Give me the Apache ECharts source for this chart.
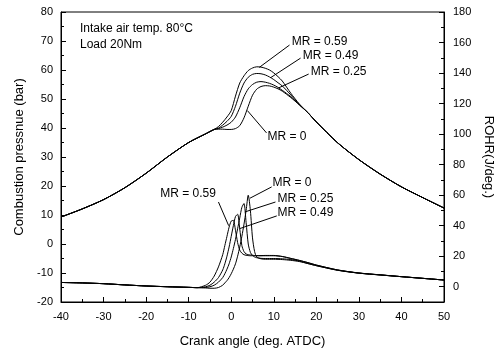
<!DOCTYPE html>
<html><head><meta charset="utf-8">
<script src="https://cdn.jsdelivr.net/npm/echarts@6/dist/echarts.min.js"></script>
<style>html,body{margin:0;padding:0;background:#fff}#c{width:497px;height:354px}</style>
</head><body><div id="c"></div>
<script>
// Crank angle samples (deg. ATDC)
const pressureX = [-40,-35,-30,-25,-20,-15,-10,-6,-4,-3,-2,-1,0,1,2,3,4,5,6,7,8,9,10,11,12,14,16,18,20,25,30,35,40,45,50];
// Combustion pressure (bar)
const pMR059 = [9.3,12.1,15.3,19.4,24.4,30,35,38,39.5, 40.5,42,43.8,46,51,55.5,58,59.8,60.7,61.1,61,60.6,60,59,57.7,56.2,52,48.3, 45.3,42.1,34.9,29.1,24.1,19.7,16,12.4];
const pMR049 = [9.3,12.1,15.3,19.4,24.4,30,35,38,39.5, 40,41,42.3,44,47.5,52,55.5,57.5,58.5,58.8,58.7,58.3,57.6,56.7,55.6,54.5,51.4,48.1, 45.3,42.1,34.9,29.1,24.1,19.7,16,12.4];
const pMR025 = [9.3,12.1,15.3,19.4,24.4,30,35,38,39.5, 39.8,40.3,41,42,43.8,47,50.8,53.5,55,55.8,56,55.8,55.4,54.8,54,53,50.8,48, 45.3,42.1,34.9,29.1,24.1,19.7,16,12.4];
const pMR0   = [9.3,12.1,15.3,19.4,24.4,30,35,38,39.5, 39.6,39.6,39.5,39.5,39.8,40.8,43.5,47.5,51.3,53.4,54.3,54.6,54.5,54.1,53.5,52.7,50.5,48, 45.3,42.1,34.9,29.1,24.1,19.7,16,12.4];

const rohrX = [-40,-35,-30,-25,-20,-15,-10,-8,-6,-5,-4,-3,-2,-1.5,-1,-0.5,0,0.5,1,1.5,2,2.5,3,3.5,4,4.5,5,5.5,6,7,8,10,12,14,16,18,20,25,30,35,40,45,50];
// Rate of heat release (J/deg.)
const rMR059 = [2.8,2.5,2,1.2,0.5,0,-0.4,-0.6, 1,3,7,13,21,27,33,39,43,43.5,37,29,24,22,21,20.6,20.4,20.3,20.3,20.3,20.3,20.4,20.5,20.5,19.8,18.5,17.2, 15.8,14.2,11,9,7.8,6.6,5.5,4.4];
const rMR049 = [2.8,2.5,2,1.2,0.5,0,-0.4,-0.6, 0,1,3,6,11,15,20,26,33,40,46,47.5,38,27,23,21.5,21,20.8,20.6,20.5,20.4,20.3,20.3,20.3,19.8,18.6,17.3, 15.8,14.2,11,9,7.8,6.6,5.5,4.4];
const rMR025 = [2.8,2.5,2,1.2,0.5,0,-0.4,-0.6, -0.5,0,1,3,6,8.5,11.5,15,19.5,25,31,38,45,52,54.5,42,28,22.5,20.5,19.5,19,18.6,18.5,18.5,18.3,17.8,16.8, 15.2,13.8,10.8,8.9,7.7,6.6,5.5,4.4];
const rMR0   = [2.8,2.5,2,1.2,0.5,0,-0.4,-0.6, -0.8,-1,-1,-0.5,1,2.5,4,6,8.5,11.5,15,20,26,33,41,50,60,50,32,23,19.5,18.3,18,18,17.8,17.3,16.5, 15.2,13.8,10.8,8.9,7.7,6.6,5.5,4.4];

const xTicks = [-40,-30,-20,-10,0,10,20,30,40,50];
const rightTicks = [0,20,40,60,80,100,120,140,160,180];
const rightMinor = [10,30,50,70,90,110,130,150,170];

// annotations: [text, textX, textY, lineX1, lineY1, lineX2, lineY2]
const pressureNotes = [
  ['MR = 0.59', 14.2, 69.7, 13.7, 68.6, 6.6, 60.9],
  ['MR = 0.49', 16.8, 64.8, 16.3, 64.1, 9.3, 57.4],
  ['MR = 0.25', 18.7, 59.3, 18.2, 58.6, 11.1, 53.8],
  ['MR = 0',     8.5, 36.9,  8.3, 38.3,  3.8, 46.0]
];
const rohrNotes = [
  ['MR = 0.59', -16.7, 60.8, -3.0, 55.5, -0.6, 40.0],
  ['MR = 0',      9.7, 68.0,  9.5, 65.4,  4.4, 58.0],
  ['MR = 0.25',  10.9, 57.5, 10.4, 55.5,  3.2, 49.0],
  ['MR = 0.49',  10.9, 48.3, 10.7, 46.4,  1.9, 38.0]
];

function pairs(xs, ys){ return xs.map((x,i)=>[x, ys[i]]); }
const lineStyle = {color:'#000', width:1};
function mk(name, xs, ys, yIdx){
  return {name, type:'line', xAxisIndex:0, yAxisIndex:yIdx, data:pairs(xs,ys), showSymbol:false, symbol:'none',
    smooth:0.25, lineStyle, z:3};
}
const font = 'Liberation Sans, Arial, sans-serif';
const chart = echarts.init(document.getElementById('c'));
const axisLabel = {color:'#000', fontSize:11, fontFamily:font};
chart.setOption({
  animation:false,
  backgroundColor:'#fff',
  grid:{left:61, right:53, top:12, bottom:52, show:true, borderColor:'#000', borderWidth:1, backgroundColor:'transparent',
    containLabel:false, outerBoundsMode:'none'},
  xAxis:[{type:'value', min:-40, max:50, interval:10,
    axisLine:{show:true, onZero:false, lineStyle:{color:'#000'}},
    axisTick:{inside:true, length:5, lineStyle:{color:'#000'}},
    minorTick:{show:true, splitNumber:2, length:3, lineStyle:{color:'#000'}},
    splitLine:{show:false},
    axisLabel:{...axisLabel, margin:9, customValues:xTicks},
    name:'Crank angle (deg. ATDC)', nameLocation:'middle', nameGap:33,
    nameTextStyle:{color:'#000', fontSize:13, fontFamily:font}
  }],
  yAxis:[
    {type:'value', min:-20, max:80, interval:10, position:'left',
      axisLine:{show:true, onZero:false, lineStyle:{color:'#000'}},
      axisTick:{inside:true, length:5, lineStyle:{color:'#000'}},
      minorTick:{show:true, splitNumber:2, length:3, lineStyle:{color:'#000'}},
      splitLine:{show:false},
      axisLabel:{...axisLabel, margin:8},
      name:'Combustion pressnue (bar)', nameLocation:'middle', nameGap:30, nameRotate:90,
      nameTextStyle:{color:'#000', fontSize:13, fontFamily:font}
    },
    {type:'value', min:-10, max:180, position:'right',
      axisLine:{show:true, onZero:false, lineStyle:{color:'#000'}},
      axisTick:{inside:true, length:5, customValues:rightTicks, lineStyle:{color:'#000'}},
      splitLine:{show:false},
      axisLabel:{...axisLabel, margin:9, customValues:rightTicks},
      name:'ROHR(J/deg.)', nameLocation:'middle', nameGap:33, nameRotate:-90,
      nameTextStyle:{color:'#000', fontSize:13, fontFamily:font}
    },
    {type:'value', min:-10, max:180, position:'right',
      axisLine:{show:false, onZero:false},
      axisTick:{inside:true, length:3, customValues:rightMinor, lineStyle:{color:'#000'}},
      splitLine:{show:false},
      axisLabel:{show:false}
    }
  ],
  series:[
    mk('P MR=0.59', pressureX, pMR059, 0),
    mk('P MR=0.49', pressureX, pMR049, 0),
    mk('P MR=0.25', pressureX, pMR025, 0),
    mk('P MR=0',    pressureX, pMR0, 0),
    mk('R MR=0.59', rohrX, rMR059, 1),
    mk('R MR=0.49', rohrX, rMR049, 1),
    mk('R MR=0.25', rohrX, rMR025, 1),
    mk('R MR=0',    rohrX, rMR0, 1)
  ]
});

const graphics = [
  {type:'text', left:80, top:23, style:{text:'Intake air temp. 80\u00B0C', fill:'#000', font:'12px '+font}},
  {type:'text', left:80, top:39, style:{text:'Load 20Nm', fill:'#000', font:'12px '+font}}
];
function addNotes(notes, seriesIndex){
  notes.forEach(n=>{
    const t = chart.convertToPixel({seriesIndex}, [n[1], n[2]]);
    const a = chart.convertToPixel({seriesIndex}, [n[3], n[4]]);
    const b = chart.convertToPixel({seriesIndex}, [n[5], n[6]]);
    graphics.push({type:'text', x:t[0], y:t[1], z:10, style:{text:n[0], fill:'#000', font:'12px '+font, verticalAlign:'middle'}});
    graphics.push({type:'line', z:10, shape:{x1:a[0], y1:a[1], x2:b[0], y2:b[1]}, style:{stroke:'#000', lineWidth:1}});
  });
}
addNotes(pressureNotes, 0);
addNotes(rohrNotes, 4);
chart.setOption({graphic:graphics});
</script></body></html>
